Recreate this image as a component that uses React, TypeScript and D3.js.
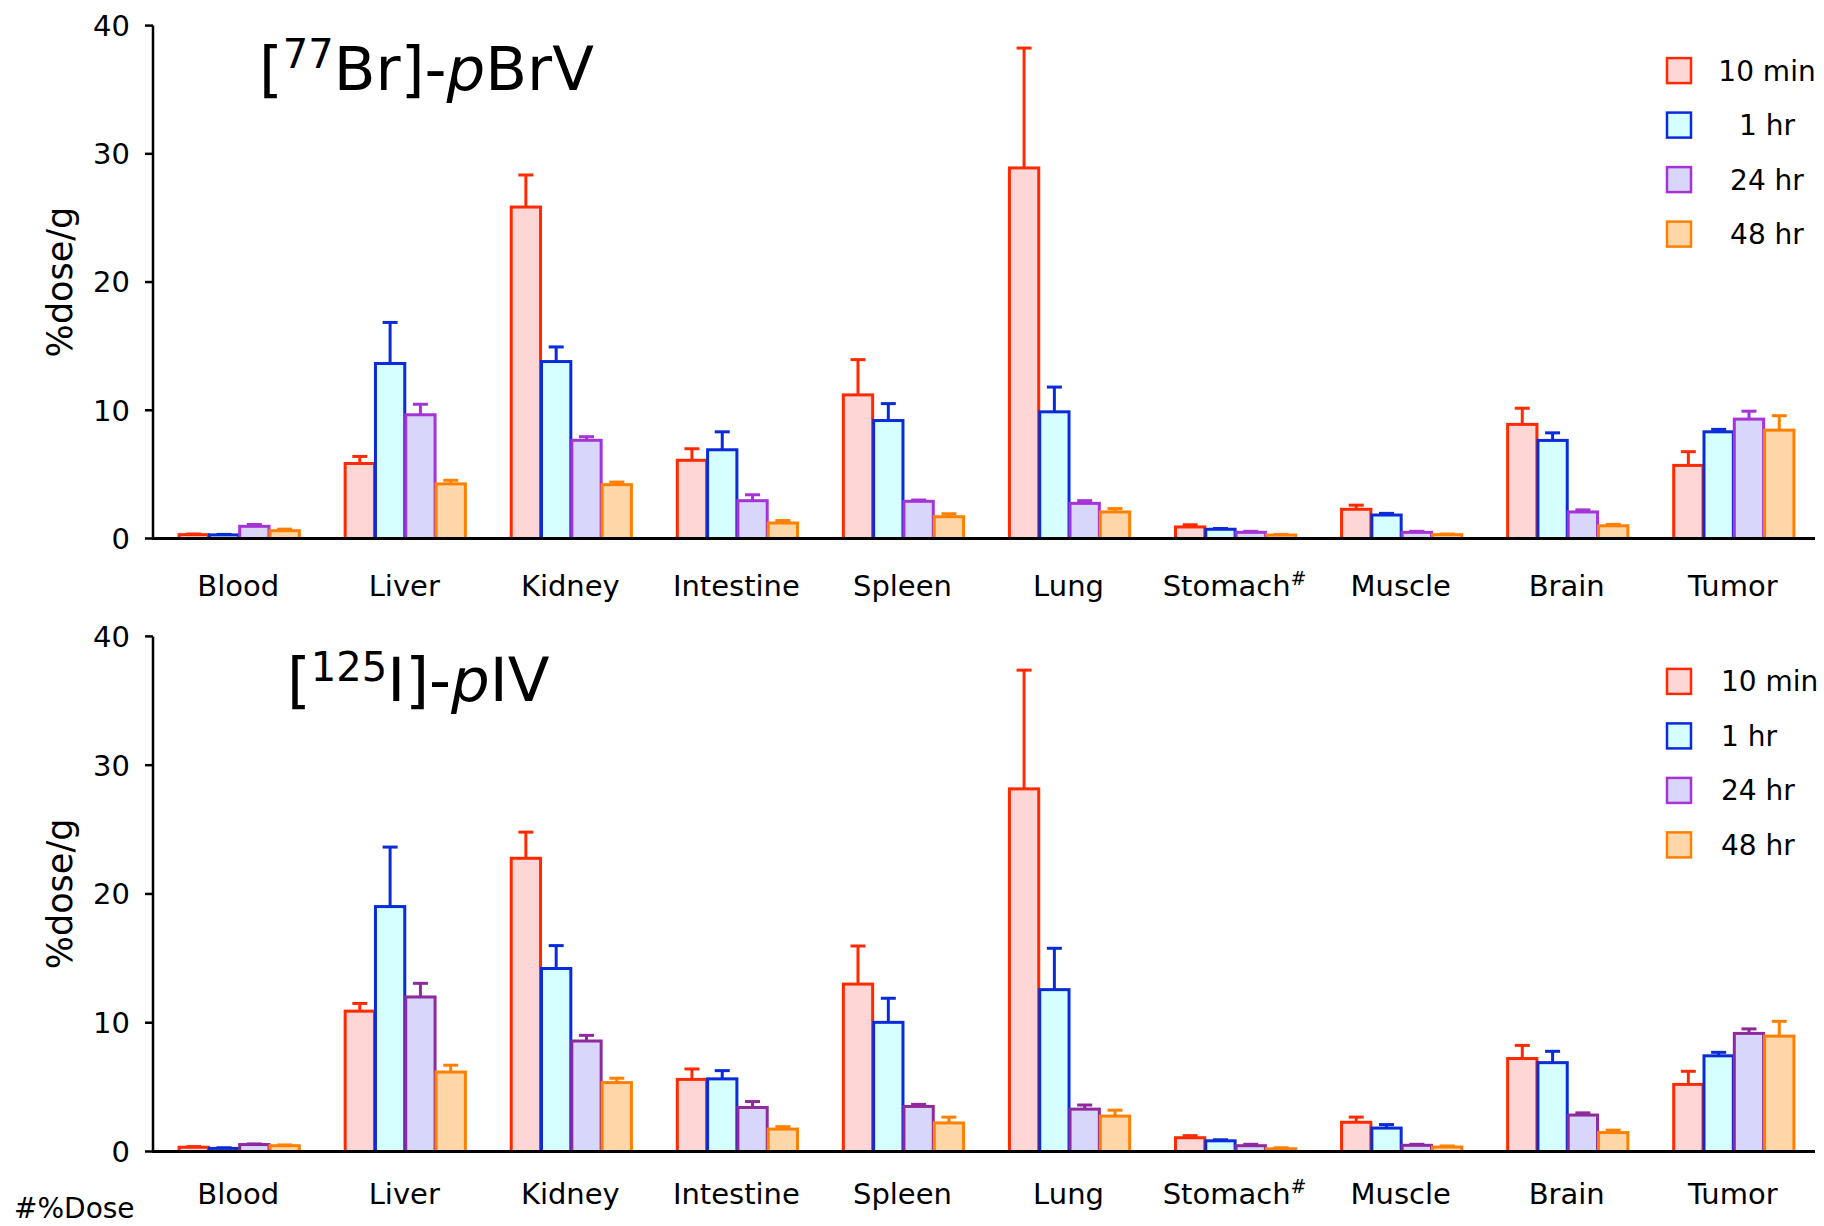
import React from 'react';
import * as d3 from 'd3';

const categories = ['Blood', 'Liver', 'Kidney', 'Intestine', 'Spleen', 'Lung', 'Stomach', 'Muscle', 'Brain', 'Tumor'];
const seriesNames = ['10 min', '1 hr', '24 hr', '48 hr'];
const yTicks = [0, 10, 20, 30, 40];

// [77Br]-pBrV, %dose/g
const br10min = [0.3, 5.85, 25.85, 6.1, 11.2, 28.9, 0.9, 2.28, 8.9, 5.7];
const br10minSd = [0.05, 0.55, 2.5, 0.9, 2.75, 9.35, 0.17, 0.32, 1.26, 1.07];
const br1hr = [0.28, 13.65, 13.8, 6.92, 9.2, 9.88, 0.72, 1.83, 7.65, 8.32];
const br1hrSd = [0.04, 3.2, 1.14, 1.4, 1.32, 1.93, 0.06, 0.13, 0.59, 0.19];
const br24hr = [0.95, 9.65, 7.66, 2.95, 2.9, 2.74, 0.48, 0.48, 2.07, 9.31];
const br24hrSd = [0.14, 0.82, 0.28, 0.46, 0.1, 0.21, 0.08, 0.08, 0.16, 0.62];
const br48hr = [0.61, 4.26, 4.2, 1.21, 1.7, 2.07, 0.27, 0.3, 0.99, 8.45];
const br48hrSd = [0.12, 0.28, 0.2, 0.19, 0.23, 0.26, 0.05, 0.05, 0.11, 1.13];

// [125I]-pIV, %dose/g
const io10min = [0.33, 10.9, 22.77, 5.6, 13.0, 28.16, 1.07, 2.27, 7.22, 5.21];
const io10minSd = [0.05, 0.6, 2.03, 0.81, 2.96, 9.22, 0.16, 0.4, 1.02, 1.02];
const io1hr = [0.24, 19.02, 14.21, 5.64, 10.03, 12.57, 0.83, 1.82, 6.9, 7.43];
const io1hrSd = [0.05, 4.62, 1.78, 0.64, 1.87, 3.21, 0.08, 0.27, 0.88, 0.27];
const io24hr = [0.54, 12.0, 8.58, 3.42, 3.5, 3.29, 0.45, 0.48, 2.83, 9.17];
const io24hrSd = [0.05, 1.06, 0.44, 0.46, 0.16, 0.32, 0.11, 0.08, 0.17, 0.35];
const io48hr = [0.45, 6.17, 5.35, 1.74, 2.22, 2.75, 0.21, 0.35, 1.47, 8.96];
const io48hrSd = [0.06, 0.53, 0.34, 0.19, 0.45, 0.46, 0.08, 0.08, 0.19, 1.15];

const FONT = "'Comic Sans MS', 'DejaVu Sans', sans-serif";
const fills = ['#ffd6d6', '#d6ffff', '#d8d6fb', '#ffd6a8'];
const strokesTop = ['#ff2a00', '#0a2bd9', '#a633d6', '#ff8000'];
const strokesBottom = ['#ff2a00', '#0a2bd9', '#8e2a9e', '#ff8000'];
const legendStrokes = ['#ff2a00', '#0a2bd9', '#a633d6', '#ff8000'];

const X0 = 153;
const X1 = 1815;

const x = d3.scaleBand<string>()
  .domain(categories)
  .range([X0, 1818])
  .paddingInner(0.27)
  .paddingOuter(0.148);

const sub = d3.scaleBand<string>()
  .domain(seriesNames)
  .range([0, x.bandwidth()]);

type PanelProps = {
  values: number[][];
  sds: number[][];
  strokes: string[];
  base: number;
  top: number;
  title: React.ReactNode;
  labelBaseline: number;
  legendAlign: 'middle' | 'start';
};

const Panel = ({ values, sds, strokes, base, top, title, labelBaseline, legendAlign }: PanelProps) => {
  const y = d3.scaleLinear().domain([0, 40]).range([base, top]);
  const capW = 15;
  return (
    <g>
      {title}
      {/* bars with upper error bars */}
      {categories.map((c, ci) => (
        <g key={c} transform={`translate(${x(c)},0)`}>
          {seriesNames.map((s, si) => {
            const v = values[si][ci];
            const e = sds[si][ci];
            const bx = sub(s)! + 1.5;
            const bw = sub.bandwidth() - 1;
            const cx = bx + bw / 2;
            return (
              <g key={s}>
                <line x1={cx} x2={cx} y1={y(v)} y2={y(v + e)} stroke={strokes[si]} strokeWidth={3} />
                <line x1={cx - capW / 2} x2={cx + capW / 2} y1={y(v + e)} y2={y(v + e)} stroke={strokes[si]} strokeWidth={3} />
                <rect x={bx} y={y(v)} width={bw} height={base - y(v)} fill={fills[si]} stroke={strokes[si]} strokeWidth={3} />
              </g>
            );
          })}
        </g>
      ))}
      {/* axes */}
      <line x1={X0} x2={X0} y1={y(40)} y2={base} stroke="#000" strokeWidth={2.5} />
      <line x1={X0 - 1} x2={X1} y1={base} y2={base} stroke="#000" strokeWidth={3} />
      {yTicks.map(t => (
        <g key={t}>
          <line x1={X0 - 8} x2={X0} y1={y(t)} y2={y(t)} stroke="#000" strokeWidth={2.5} />
          <text x={130} y={y(t)} dy="0.36em" textAnchor="end" fontSize={29} fontFamily={FONT}>{t}</text>
        </g>
      ))}
      <text transform={`translate(72,${y(20)}) rotate(-90)`} textAnchor="middle" fontSize={35} fontFamily={FONT}>%dose/g</text>
      {categories.map(c => (
        <text key={c} x={x(c)! + x.bandwidth() / 2} y={labelBaseline} textAnchor="middle" fontSize={29} fontFamily={FONT}>
          {c}
          {c === 'Stomach' ? <tspan dy={-11} fontSize={19}>#</tspan> : null}
        </text>
      ))}
      {/* legend */}
      {seriesNames.map((s, i) => {
        const cy = top + 45 + i * 54.5;
        return (
          <g key={s}>
            <rect x={1667} y={cy - 12.5} width={24} height={25} fill={fills[i]} stroke={legendStrokes[i]} strokeWidth={2.5} />
            <text x={legendAlign === 'middle' ? 1767 : 1721} y={cy} dy="0.36em" textAnchor={legendAlign} fontSize={28} fontFamily={FONT}>{s}</text>
          </g>
        );
      })}
    </g>
  );
};

export default function App() {
  const topTitle = (
    <text x={259} y={90} fontSize={61} fontFamily={FONT}>
      [<tspan dy={-22} fontSize={40}>77</tspan><tspan dy={22}>Br]-</tspan><tspan fontStyle="italic">p</tspan>BrV
    </text>
  );
  const bottomTitle = (
    <text x={287} y={701} fontSize={61} fontFamily={FONT}>
      [<tspan dy={-20} fontSize={40}>125</tspan><tspan dy={20}>I]-</tspan><tspan fontStyle="italic">p</tspan>IV
    </text>
  );
  return (
    <svg width={1824} height={1226} style={{ position: 'absolute', left: 0, top: 0, background: '#fff' }}>
      <rect width={1824} height={1226} fill="#fff" />
      <Panel
        values={[br10min, br1hr, br24hr, br48hr]}
        sds={[br10minSd, br1hrSd, br24hrSd, br48hrSd]}
        strokes={strokesTop}
        base={538.5}
        top={25.6}
        title={topTitle}
        labelBaseline={596}
        legendAlign="middle"
      />
      <Panel
        values={[io10min, io1hr, io24hr, io48hr]}
        sds={[io10minSd, io1hrSd, io24hrSd, io48hrSd]}
        strokes={strokesBottom}
        base={1151.5}
        top={636.4}
        title={bottomTitle}
        labelBaseline={1204}
        legendAlign="start"
      />
      <text x={14} y={1218} fontSize={28} fontFamily={FONT}>#%Dose</text>
    </svg>
  );
}
